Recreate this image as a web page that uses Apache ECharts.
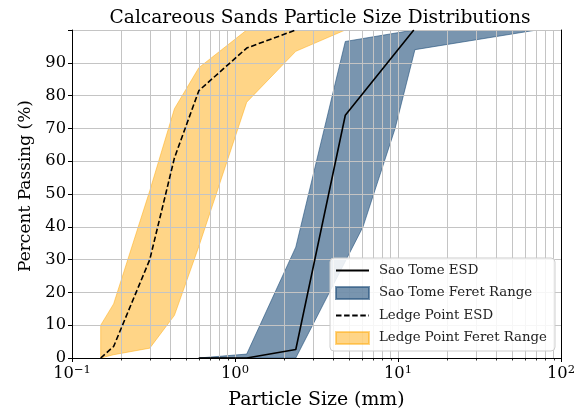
<!DOCTYPE html>
<html><head><meta charset="utf-8">
<script src="https://cdn.jsdelivr.net/npm/echarts@6/dist/echarts.min.js"></script>
<style>html,body{margin:0;padding:0;background:#fff}#c{width:584px;height:420px}</style>
</head><body><div id="c"></div>
<script>
// ---- data ----
const saoEsdX = [0.6, 1.18, 2.36, 4.75, 12.5];
const saoEsdY = [0, 0, 2.6, 74, 100];

const saoFeretUpperX = [0.6, 1.18, 2.36, 4.75, 12.5, 75];
const saoFeretUpperY = [0, 1.2, 33.8, 96.5, 100, 100];
const saoFeretLowerX = [0.6, 2.36, 6.1, 9.6, 12.7, 71];
const saoFeretLowerY = [0, 0, 40, 70, 94, 100];

const ledgeEsdX = [0.15, 0.18, 0.3, 0.425, 0.6, 1.18, 2.36];
const ledgeEsdY = [0, 3.5, 30, 61, 81.5, 94.5, 100];

const ledgeFeretUpperX = [0.15, 0.18, 0.3, 0.425, 0.6, 1.18, 4.75];
const ledgeFeretUpperY = [10, 16.5, 51, 76, 88.5, 100, 100];
const ledgeFeretLowerX = [0.15, 0.18, 0.3, 0.425, 0.6, 1.18, 2.36, 4.75];
const ledgeFeretLowerY = [0, 1, 3, 13, 34, 78, 93.5, 100];

const seriesNames = ['Sao Tome ESD', 'Sao Tome Feret Range', 'Ledge Point ESD', 'Ledge Point Feret Range'];
const yTicks = [0, 10, 20, 30, 40, 50, 60, 70, 80, 90];
const xDecades = [0.1, 1, 10, 100];

// ---- helpers ----
const FONT = 'DejaVu Serif';
const zip = (xs, ys) => xs.map((x, i) => [x, ys[i]]);
const band = (ux, uy, lx, ly) => zip(ux, uy).concat(zip(lx, ly).reverse());
const minorX = [];
xDecades.slice(0, -1).forEach(d => { for (let k = 2; k <= 9; k++) minorX.push(+(k * d).toPrecision(3)); });

function polygonSeries(name, pts, fill, z) {
  return {
    name: name, type: 'custom', z: z, clip: true,
    itemStyle: { color: fill, borderColor: fill, borderWidth: 1 },
    encode: { x: 0, y: 1 },
    data: pts,
    renderItem: function (params, api) {
      if (params.dataIndex !== 0) return null;
      const p = pts.map(d => api.coord(d));
      return { type: 'polygon', shape: { points: p },
        style: { fill: fill, stroke: fill, lineWidth: 1 } };
    }
  };
}

const chart = echarts.init(document.getElementById('c'), null, { renderer: 'canvas' });
const blue = 'rgba(31,78,121,0.6)';
const yellow = 'rgba(255,165,0,0.47)';
const gridColor = '#c4c4c4';
const hideSym = { opacity: 0 };

const option = {
  animation: false,
  backgroundColor: '#fff',
  title: {
    text: 'Calcareous Sands Particle Size Distributions',
    left: 315, top: 4, textAlign: 'center',
    textStyle: { fontFamily: FONT, fontSize: 18.6, fontWeight: 'normal', color: '#000' }
  },
  grid: { left: 72, right: 23, top: 30, bottom: 62 },
  legend: {
    orient: 'vertical', left: 330, top: 258,
    itemWidth: 33, itemHeight: 12, itemGap: 9,
    padding: [6, 8, 6, 5],
    backgroundColor: 'rgba(255,255,255,0.85)', borderColor: '#cccccc', borderWidth: 1, borderRadius: 4,
    textStyle: { fontFamily: FONT, fontSize: 13.3, color: '#222', padding: [0, 0, 0, 5] },
    data: [
      { name: seriesNames[0], itemStyle: hideSym },
      { name: seriesNames[1], icon: 'rect' },
      { name: seriesNames[2], itemStyle: hideSym },
      { name: seriesNames[3], icon: 'rect' }
    ]
  },
  xAxis: [{
    type: 'log', logBase: 10, min: 0.1, max: 100,
    name: 'Particle Size (mm)', nameLocation: 'middle', nameGap: 33,
    nameTextStyle: { fontFamily: FONT, fontSize: 18.9, color: '#000' },
    axisLine: { lineStyle: { color: '#000', width: 1 } },
    axisTick: { show: true, length: 4, lineStyle: { color: '#000' } },
    axisLabel: {
      margin: 6, color: '#000',
      formatter: function (v) {
        const e = Math.round(Math.log10(v));
        return '{b|10}{s|' + (e < 0 ? '\u2212' + (-e) : e) + '}';
      },
      rich: {
        b: { fontFamily: FONT, fontSize: 16.3, color: '#000' },
        s: { fontFamily: FONT, fontSize: 11.5, color: '#000', padding: [0, 0, 8, 0] }
      }
    },
    splitLine: { show: true, lineStyle: { color: gridColor, width: 1 } }
  }, {
    type: 'log', logBase: 10, min: 0.1, max: 100, position: 'top',
    axisLine: { lineStyle: { color: '#000', width: 1 } },
    axisTick: { show: false }, axisLabel: { show: false }, splitLine: { show: false }
  }],
  yAxis: [{
    type: 'value', min: 0, max: 100, interval: 10,
    name: 'Percent Passing (%)', nameLocation: 'middle', nameGap: 36,
    nameTextStyle: { fontFamily: FONT, fontSize: 17, color: '#000', padding: [0, 0, 0, 16] },
    axisLine: { show: true, lineStyle: { color: '#000', width: 1 } },
    axisTick: { show: true, length: 4, lineStyle: { color: '#000' } },
    axisLabel: {
      margin: 6, fontFamily: FONT, fontSize: 16.3, color: '#000',
      formatter: function (v) { return yTicks.indexOf(v) >= 0 ? String(v) : ''; }
    },
    splitLine: { show: true, lineStyle: { color: gridColor, width: 1 } }
  }, {
    type: 'value', min: 0, max: 100, position: 'right',
    axisLine: { show: true, lineStyle: { color: '#000', width: 1 } },
    axisTick: { show: false }, axisLabel: { show: false }, splitLine: { show: false }
  }],
  series: [
    polygonSeries(seriesNames[1], band(saoFeretUpperX, saoFeretUpperY, saoFeretLowerX, saoFeretLowerY), blue, -2),
    polygonSeries(seriesNames[3], band(ledgeFeretUpperX, ledgeFeretUpperY, ledgeFeretLowerX, ledgeFeretLowerY), yellow, -2),
    {
      name: '_minor', type: 'line', data: [], z: -1, silent: true,
      markLine: {
        silent: true, symbol: 'none', z: -1, animation: false,
        label: { show: false },
        lineStyle: { color: gridColor, type: 'solid', width: 1 },
        data: minorX.map(v => ({ xAxis: v }))
      }
    },
    {
      name: seriesNames[0], type: 'line', z: 5, data: zip(saoEsdX, saoEsdY),
      symbol: 'none', showSymbol: false, color: '#000',
      lineStyle: { color: '#000', width: 1.6 }
    },
    {
      name: seriesNames[2], type: 'line', z: 5, data: zip(ledgeEsdX, ledgeEsdY),
      symbol: 'none', showSymbol: false, color: '#000',
      lineStyle: { color: '#000', width: 1.6, type: [5.5, 2.6] }
    }
  ]
};
chart.setOption(option);

// minor ticks below the x axis, positioned through the axis scale
const y0 = chart.convertToPixel({ yAxisIndex: 0 }, 0);
chart.setOption({
  graphic: minorX.map(v => {
    const px = Math.round(chart.convertToPixel({ xAxisIndex: 0 }, v)) + 0.5;
    return { type: 'line', silent: true, z: 10,
      shape: { x1: px, y1: y0, x2: px, y2: y0 + 2.5 },
      style: { stroke: '#000', lineWidth: 0.8 } };
  })
});
</script></body></html>
